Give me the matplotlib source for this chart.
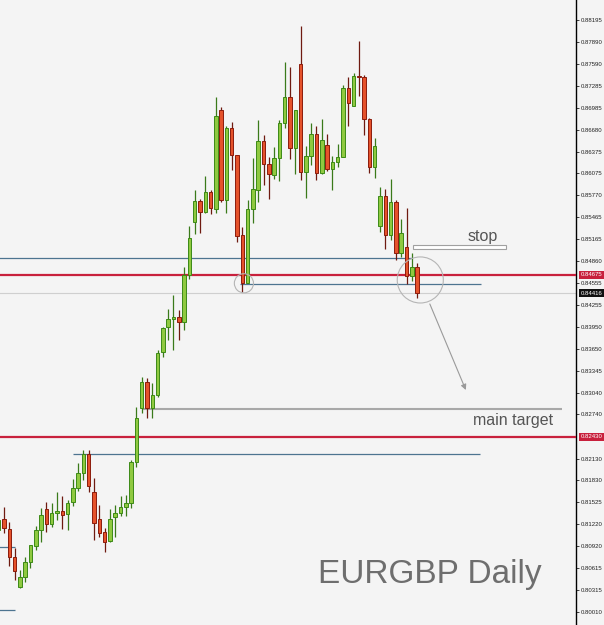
import matplotlib
matplotlib.use("Agg")
import matplotlib.pyplot as plt
import numpy as np
import matplotlib.transforms as mtransforms

# ---------------- data ----------------
opens = [0.81142, 0.81294, 0.81156, 0.80769, 0.80354, 0.80492, 0.80700, 0.80921, 0.81142, 0.81433,
         0.81225, 0.81377, 0.81405, 0.81363, 0.81529, 0.81723, 0.81930, 0.82193, 0.81668, 0.81294,
         0.81114, 0.80990, 0.81322, 0.81377, 0.81460, 0.81516, 0.82083, 0.82829, 0.83189, 0.82829,
         0.83009, 0.83604, 0.83950, 0.84060, 0.84088, 0.84019, 0.84669, 0.85402, 0.85692, 0.85540,
         0.85817, 0.85582, 0.86951, 0.85706, 0.86702, 0.86328, 0.85222, 0.84558, 0.85582, 0.85844,
         0.86522, 0.86204, 0.86052, 0.86287, 0.86771, 0.87130, 0.86425, 0.87587, 0.86093, 0.86315,
         0.86619, 0.86079, 0.86467, 0.86135, 0.86232, 0.86301, 0.87255, 0.87006, 0.87421, 0.87407,
         0.86826, 0.86162, 0.85346, 0.85761, 0.85222, 0.85678, 0.84973, 0.85056, 0.84655, 0.84779]
highs = [0.81350, 0.81460, 0.81253, 0.80893, 0.80589, 0.80769, 0.80935, 0.81197, 0.81446, 0.81529,
         0.81516, 0.81668, 0.81612, 0.81557, 0.81847, 0.82069, 0.82248, 0.82248, 0.81861, 0.81488,
         0.81170, 0.81433, 0.81488, 0.81612, 0.81626, 0.82110, 0.82843, 0.83258, 0.83244, 0.83175,
         0.83631, 0.83950, 0.84199, 0.84392, 0.84185, 0.84779, 0.85346, 0.85844, 0.85720, 0.86038,
         0.85844, 0.87130, 0.86992, 0.86729, 0.86785, 0.86328, 0.85333, 0.85706, 0.86287, 0.86812,
         0.86605, 0.86301, 0.86439, 0.86812, 0.87615, 0.87545, 0.86951, 0.88112, 0.86453, 0.86771,
         0.86729, 0.86826, 0.86619, 0.86315, 0.86480, 0.87296, 0.87407, 0.87462, 0.87905, 0.87435,
         0.86840, 0.86563, 0.85886, 0.85858, 0.85996, 0.85706, 0.85443, 0.85595, 0.84973, 0.84835]
lows = [0.81073, 0.81101, 0.80644, 0.80451, 0.80340, 0.80423, 0.80617, 0.80865, 0.80976, 0.81114,
        0.81184, 0.81280, 0.81156, 0.81142, 0.81474, 0.81681, 0.81834, 0.81668, 0.81004, 0.81045,
        0.80838, 0.80976, 0.81045, 0.81336, 0.81336, 0.81446, 0.82013, 0.82760, 0.82691, 0.82691,
        0.82981, 0.83535, 0.83770, 0.83631, 0.83770, 0.83908, 0.84613, 0.85236, 0.85250, 0.85526,
        0.85512, 0.85526, 0.85678, 0.85526, 0.86121, 0.85125, 0.84434, 0.84558, 0.85388, 0.85678,
        0.85913, 0.85720, 0.85996, 0.85969, 0.86702, 0.86273, 0.86066, 0.85983, 0.85734, 0.86190,
        0.85983, 0.86066, 0.86107, 0.85844, 0.86162, 0.86301, 0.86729, 0.87006, 0.87144, 0.86605,
        0.86079, 0.86010, 0.85263, 0.85028, 0.85153, 0.84876, 0.84918, 0.84544, 0.84586, 0.84351]
closes = [0.81280, 0.81170, 0.80769, 0.80575, 0.80492, 0.80700, 0.80935, 0.81142, 0.81350, 0.81225,
          0.81377, 0.81405, 0.81350, 0.81516, 0.81723, 0.81930, 0.82193, 0.81751, 0.81239, 0.81101,
          0.80976, 0.81294, 0.81377, 0.81460, 0.81516, 0.82083, 0.82691, 0.83189, 0.82829, 0.83009,
          0.83590, 0.83936, 0.84060, 0.84088, 0.84019, 0.84669, 0.85180, 0.85692, 0.85540, 0.85817,
          0.85595, 0.86868, 0.85706, 0.86702, 0.86328, 0.85208, 0.84558, 0.85582, 0.85858, 0.86522,
          0.86204, 0.86066, 0.86287, 0.86771, 0.87130, 0.86425, 0.86951, 0.86093, 0.86315, 0.86619,
          0.86079, 0.86536, 0.86135, 0.86232, 0.86301, 0.87255, 0.87048, 0.87421, 0.87407, 0.86826,
          0.86162, 0.86453, 0.85761, 0.85222, 0.85678, 0.84973, 0.85250, 0.84655, 0.84779, 0.84420]

tick_values = [0.88195, 0.87890, 0.87590, 0.87285, 0.86985, 0.86680, 0.86375, 0.86075, 0.85770,
               0.85465, 0.85165, 0.84860, 0.84555, 0.84255, 0.83950, 0.83650, 0.83345, 0.83040,
               0.82740, 0.82130, 0.81830, 0.81525, 0.81220, 0.80920, 0.80615, 0.80315, 0.80010]
tick_labels = ["0.88195", "0.87890", "0.87590", "0.87285", "0.86985", "0.86680", "0.86375",
               "0.86075", "0.85770", "0.85465", "0.85165", "0.84860", "0.84555", "0.84255",
               "0.83950", "0.83650", "0.83345", "0.83040", "0.82740", "0.82130", "0.81830",
               "0.81525", "0.81220", "0.80920", "0.80615", "0.80315", "0.80010"]
top_value, top_label = 0.88500, "0.88500"
red_levels = [0.84675, 0.82430]
red_labels = ["0.84675", "0.82430"]
last_price = 0.84416
last_label = "0.84416"

# level lines: (price, x_start, x_end)
blue_lines = [(0.84904, 0.0, 78.0), (0.84544, 45.5, 91.0), (0.82193, 14.0, 90.8),
              (0.80907, 0.0, 3.1), (0.80036, 0.0, 3.1)]
target_line = (0.82816, 27.2, 106.3)
stop_box = (78.2, 95.7, 0.85028, 0.85084)

# ---------------- figure ----------------
BG = '#f4f4f4'
LABEL_FONT = 'Liberation Sans'
LABEL_SIZE = 4.3
fig = plt.figure(figsize=(6.04, 6.25), dpi=100, facecolor=BG)
ax = fig.add_axes([0, 0, 576 / 604, 1.0])
ax.set_facecolor(BG)
ax.set_xlim(0.245, 109.0)
ax.set_ylim(0.79828, 0.88472)

for s in ['top', 'left', 'bottom']:
    ax.spines[s].set_visible(False)
ax.spines['right'].set_color('black')
ax.spines['right'].set_linewidth(1.0)
ax.set_xticks([])
ax.yaxis.tick_right()
ax.set_yticks(tick_values)
ax.set_yticklabels(tick_labels)
ax.tick_params(axis='y', direction='out', length=2.0, width=0.6, pad=1.2,
               labelsize=LABEL_SIZE, colors='#222222')
for lab in ax.get_yticklabels():
    lab.set_family(LABEL_FONT)

trans = mtransforms.blended_transform_factory(ax.transAxes, ax.transData)
xlab = 1.0 + 4.5 / 576
# partially visible top label
ax.text(xlab, top_value, top_label, transform=trans, fontsize=LABEL_SIZE, color='#222222',
        va='center', ha='left', family=LABEL_FONT, clip_on=False)

# horizontal levels
ax.axhline(last_price, color='#cfcfcf', lw=0.8, zorder=1)
for p in red_levels:
    ax.axhline(p, color='#c8203c', lw=1.6, zorder=4)
for p, x0, x1 in blue_lines:
    ax.plot([x0, x1], [p, p], color='#4d7490', lw=0.9, zorder=2, solid_capstyle='butt')
p, x0, x1 = target_line
ax.plot([x0, x1], [p, p], color='#a8a8a8', lw=1.5, zorder=2, solid_capstyle='butt')

# stop box
x0, x1, y0, y1 = stop_box
ax.add_patch(plt.Rectangle((x0, y0), x1 - x0, y1 - y0, facecolor='white',
                           edgecolor='#a0a0a0', lw=0.8, zorder=3))

# candles
GREEN_F, GREEN_E = '#8fc940', '#3c8a16'
RED_F, RED_E = '#e5522b', '#8c1c0c'
n = len(opens)
xs = np.arange(n)
w = 0.66
for i in range(n):
    o, h, l, c = opens[i], highs[i], lows[i], closes[i]
    up = c >= o
    fc, ec = (GREEN_F, GREEN_E) if up else (RED_F, RED_E)
    wick = '#3a7a1a' if up else '#6e1a10'
    ax.vlines(xs[i], l, h, color=wick, lw=0.9, zorder=5)
    bot = min(o, c)
    hgt = max(abs(c - o), 0.00008)
    ax.add_patch(plt.Rectangle((xs[i] - w / 2, bot), w, hgt, facecolor=fc,
                               edgecolor=ec, lw=0.7, zorder=6))

# circles
ax.scatter([46.3], [0.84554], s=190, facecolors='none', edgecolors='#b5b5b5', lw=0.8, zorder=7)
ax.scatter([79.6], [0.84600], s=1100, facecolors='none', edgecolors='#b5b5b5', lw=0.8, zorder=7)

# arrow
ax.annotate('', xy=(88.2, 0.83078), xytext=(81.4, 0.84268),
            arrowprops=dict(arrowstyle='-|>', color='#9a9a9a', lw=0.8,
                            mutation_scale=8, shrinkA=0, shrinkB=0), zorder=7)

# texts
ax.text(88.5, 0.85208, 'stop', fontsize=11.5, color='#555555', family='Liberation Sans',
        va='center', ha='left', zorder=8)
ax.text(89.5, 0.82650, 'main target', fontsize=11.5, color='#555555', family='Liberation Sans',
        va='center', ha='left', zorder=8)
ax.text(60.2, 0.80520, 'EURGBP Daily', fontsize=24, color='#6e6e6e', family='Liberation Sans',
        va='center', ha='left', zorder=8)

# highlighted price labels on the axis
for p, t in zip(red_levels, red_labels):
    ax.text(xlab, p, t, transform=trans, fontsize=LABEL_SIZE, color='white',
            va='center', ha='left', family=LABEL_FONT, clip_on=False, zorder=9,
            bbox=dict(boxstyle='square,pad=0.25', facecolor='#c8203c', edgecolor='none'))
ax.text(xlab, last_price, last_label, transform=trans, fontsize=LABEL_SIZE,
        color='white', va='center', ha='left', family=LABEL_FONT, clip_on=False, zorder=9,
        bbox=dict(boxstyle='square,pad=0.25', facecolor='#111111', edgecolor='none'))

fig.savefig('out.png', dpi=100, facecolor=BG)
